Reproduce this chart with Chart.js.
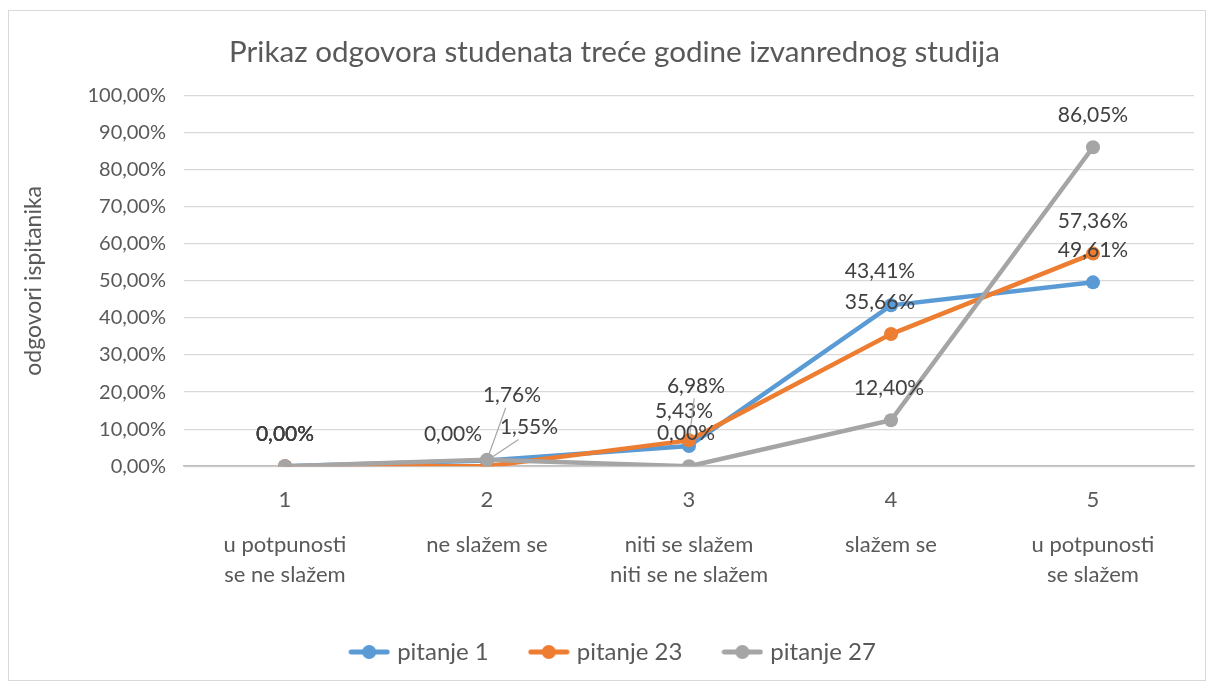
<!DOCTYPE html>
<html>
<head>
<meta charset="utf-8">
<script src="https://cdn.jsdelivr.net/npm/chart.js@4.4.1/dist/chart.umd.min.js"></script>
<style>
  body { margin: 0; background: #fff; }
  #wrap { position: absolute; left: 8px; top: 10px; width: 1196px; height: 669px; border: 1px solid #d9d9d9; }
</style>
</head>
<body>
<div id="wrap"><canvas id="chart"></canvas></div>
<script>
// data
var categories = [
    ["1", "", "", "u potpunosti", "", "se ne slažem"],
    ["2", "", "", "ne slažem se"],
    ["3", "", "", "niti se slažem", "", "niti se ne slažem"],
    ["4", "", "", "slažem se"],
    ["5", "", "", "u potpunosti", "", "se slažem"]
];
var pitanje1 = [0, 1.55, 5.43, 43.41, 49.61];
var pitanje23 = [0, 0, 6.98, 35.66, 57.36];
var pitanje27 = [0, 1.76, 0, 12.40, 86.05];

var seriesNames = ["pitanje 1", "pitanje 23", "pitanje 27"];
var seriesColors = ["#5B9BD5", "#ED7D31", "#A5A5A5"];

// label offsets (px) from the point, per series; third item = leader line
var labelOffsets = [
    [[0, -32], [42, -33, true], [-5, -35], [-11, -34], [0, -32]],
    [[0, -32], [-34, -32], [7, -54, true], [-11, -32], [0, -32]],
    [[0, -32], [25, -64, true], [-3, -33], [-2, -32], [0, -32]]
];

function fmt(v) {
    return v.toFixed(2).replace(".", ",") + "%";
}

function legendIcon(color) {
    var c = document.createElement("canvas");
    c.width = 42; c.height = 16;
    var g = c.getContext("2d");
    g.strokeStyle = color;
    g.lineWidth = 5;
    g.lineCap = "round";
    g.beginPath(); g.moveTo(3, 8); g.lineTo(39, 8); g.stroke();
    g.fillStyle = color;
    g.beginPath(); g.arc(21, 8, 7, 0, Math.PI * 2); g.fill();
    return c;
}

var valueLabels = {
    id: "valueLabels",
    afterDatasetsDraw: function (chart) {
        var ctx = chart.ctx;
        ctx.save();
        ctx.font = "21px Lato";
        ctx.fillStyle = "#404040";
        ctx.textAlign = "center";
        ctx.textBaseline = "middle";
        chart.data.datasets.forEach(function (ds, i) {
            var meta = chart.getDatasetMeta(i);
            meta.data.forEach(function (pt, j) {
                var off = labelOffsets[i][j];
                var lx = pt.x + off[0], ly = pt.y + off[1];
                if (off[2]) {
                    ctx.strokeStyle = "#a6a6a6";
                    ctx.lineWidth = 1.2;
                    ctx.beginPath();
                    ctx.moveTo(pt.x, pt.y);
                    ctx.lineTo(lx - off[0] * 0.25, ly + 12);
                    ctx.stroke();
                }
                ctx.fillText(fmt(ds.data[j]), lx, ly);
            });
        });
        ctx.restore();
    }
};

function makeDataset(idx, values) {
    return {
        label: seriesNames[idx],
        data: values,
        borderColor: seriesColors[idx],
        backgroundColor: seriesColors[idx],
        borderWidth: 4.5,
        pointRadius: 7,
        pointHoverRadius: 7,
        pointBorderWidth: 0,
        pointStyle: "circle",
        order: 3 - idx,
        tension: 0
    };
}

var datasets = [makeDataset(0, pitanje1), makeDataset(1, pitanje23), makeDataset(2, pitanje27)];

new Chart(document.getElementById("chart"), {
    type: "line",
    data: { labels: categories, datasets: datasets },
    plugins: [valueLabels],
    options: {
        responsive: true,
        maintainAspectRatio: false,
        animation: false,
        layout: { padding: { left: 26, right: 11, top: 0, bottom: 6 } },
        plugins: {
            title: {
                display: true,
                text: "Prikaz odgovora studenata treće godine izvanrednog studija",
                color: "#595959",
                font: { family: "Lato", size: 29.6, weight: "normal" },
                padding: { top: 24, bottom: 25 }
            },
            legend: {
                position: "bottom",
                labels: {
                    color: "#595959",
                    font: { family: "Lato", size: 24 },
                    usePointStyle: true,
                    pointStyleWidth: 32,
                    padding: 44,
                    generateLabels: function (chart) {
                        return seriesNames.map(function (n, i) {
                            return {
                                text: n,
                                pointStyle: legendIcon(seriesColors[i]),
                                fillStyle: seriesColors[i],
                                strokeStyle: seriesColors[i],
                                lineWidth: 0,
                                datasetIndex: i,
                                fontColor: "#595959"
                            };
                        });
                    }
                }
            },
            tooltip: { enabled: false }
        },
        scales: {
            x: {
                offset: true,
                grid: { display: false },
                border: { display: true, color: "#bfbfbf", width: 1.5 },
                ticks: {
                    color: "#595959",
                    font: { family: "Lato", size: 22, lineHeight: 0.68 },
                    maxRotation: 0,
                    autoSkip: false,
                    padding: 18
                },
                afterFit: function (scale) { scale.height -= 4; }
            },
            y: {
                min: 0,
                max: 100,
                border: { display: false },
                grid: { color: "#d9d9d9", lineWidth: 1.2, drawTicks: false },
                ticks: {
                    stepSize: 10,
                    color: "#595959",
                    font: { family: "Lato", size: 20 },
                    padding: 18,
                    callback: function (v) { return fmt(v); }
                },
                title: {
                    display: true,
                    text: "odgovori ispitanika",
                    color: "#595959",
                    font: { family: "Lato", size: 23, lineHeight: 1 },
                    padding: { top: -13, bottom: 6 }
                },
                afterFit: function (scale) { scale.width = 149; }
            }
        }
    }
});
</script>
</body>
</html>
